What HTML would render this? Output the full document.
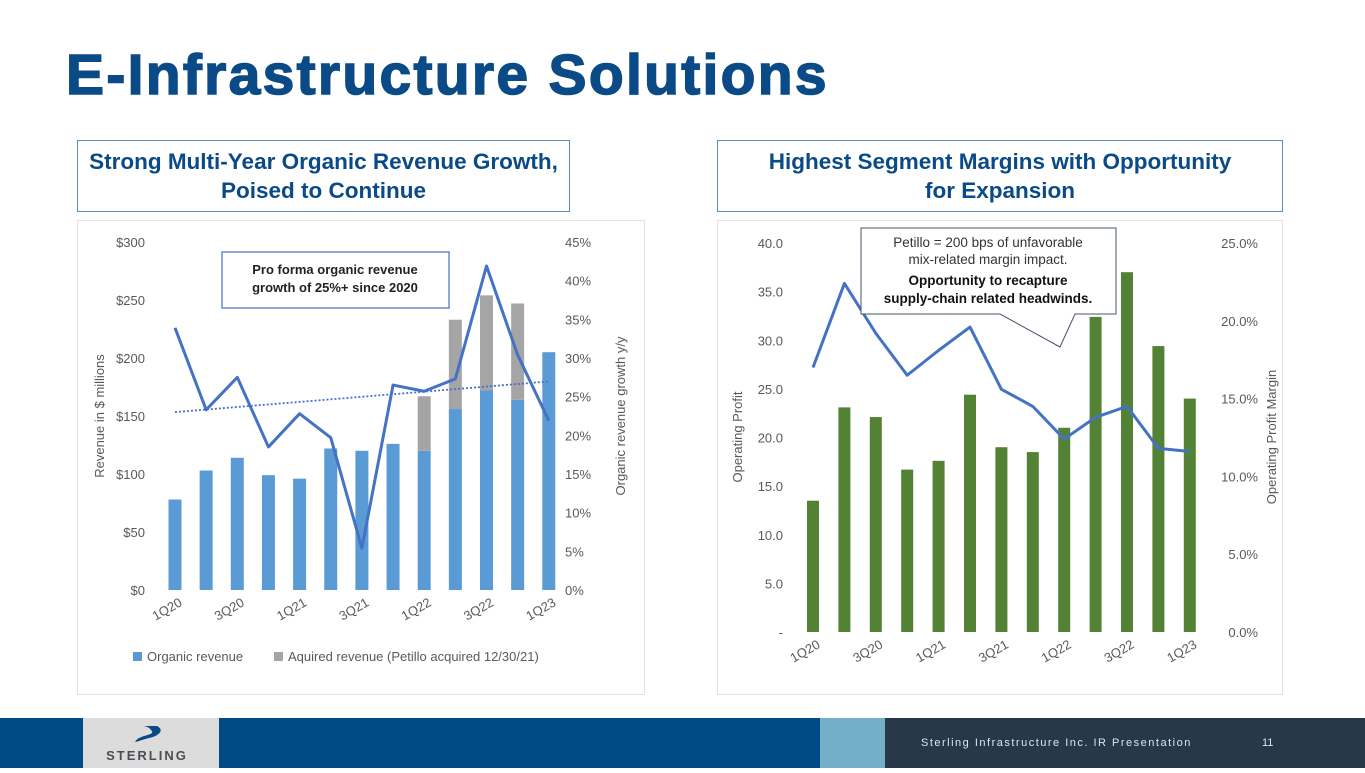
<!DOCTYPE html>
<html><head><meta charset="utf-8"><style>
body{margin:0;width:1365px;height:768px;overflow:hidden;background:#fff;font-family:"Liberation Sans",sans-serif;position:relative}
.abs{position:absolute}
.hdr{position:absolute;border:1.5px solid #5b8fc4;color:#0a4a86;font-weight:bold;font-size:22.5px;text-align:center;line-height:29px;box-sizing:border-box;padding-top:6px}
.frame{position:absolute;border:1px solid #e3e3e3;box-sizing:border-box}
</style></head><body>
<div class="abs" style="left:66px;top:42px;font-size:57px;font-weight:bold;color:#0a4a86;letter-spacing:2.3px;-webkit-text-stroke:1.5px #0a4a86">E-Infrastructure Solutions</div>
<div class="hdr" style="left:77px;top:140px;width:493px;height:72px">Strong Multi-Year Organic Revenue Growth,<br>Poised to Continue</div>
<div class="hdr" style="left:717px;top:140px;width:566px;height:72px">Highest Segment Margins with Opportunity<br>for Expansion</div>
<div class="frame" style="left:77px;top:220px;width:568px;height:475px"></div>
<div class="frame" style="left:717px;top:220px;width:566px;height:475px"></div>
<svg class="abs" style="left:0;top:0" width="1365" height="718" id="svg"></svg>
<div class="abs" style="left:0;top:718px;width:1365px;height:50px;background:#26384a">
 <div class="abs" style="left:0;top:0;width:83px;height:50px;background:#004a86"></div>
 <div class="abs" style="left:83px;top:0;width:136px;height:50px;background:#dcdcdc">
  <svg width="136" height="50"><path d="M52 24 C56 16,74 18,68 12 C66 9,62 8,60 8 L74 8 C82 12,76 18,66 20 C58 22,54 24,52 24Z" fill="#0a4a86"/><text x="64" y="42" text-anchor="middle" font-family="Liberation Sans" font-weight="bold" font-size="13" fill="#4a4f55" letter-spacing="2">STERLING</text></svg>
 </div>
 <div class="abs" style="left:219px;top:0;width:601px;height:50px;background:#004a86"></div>
 <div class="abs" style="left:820px;top:0;width:65px;height:50px;background:#74afc8"></div>
 <div class="abs" style="left:921px;top:19px;color:#dfe6ee;font-size:11px;letter-spacing:1.5px">Sterling Infrastructure Inc. IR Presentation</div>
 <div class="abs" style="left:1262px;top:19px;color:#dfe6ee;font-size:11px">11</div>
</div>
<script>
const quarters=["1Q20","2Q20","3Q20","4Q20","1Q21","2Q21","3Q21","4Q21","1Q22","2Q22","3Q22","4Q22","1Q23"];
const organic=[78,103,114,99,96,122,120,126,120,156,172,164,205];
const acquired=[0,0,0,0,0,0,0,0,47,77,82,83,0];
const growth=[33.9,23.3,27.5,18.5,22.8,19.7,5.4,26.5,25.7,27.3,41.9,30.4,21.9];
const leftTicks=[0,50,100,150,200,250,300];
const leftPctTicks=[0,5,10,15,20,25,30,35,40,45];
const opProfit=[13.5,23.1,22.1,16.7,17.6,24.4,19.0,18.5,21.0,32.4,37.0,29.4,24.0];
const opMargin=[17.0,22.4,19.2,16.5,18.1,19.6,15.6,14.5,12.4,13.8,14.5,11.8,11.6];
const rightTicks=[0,5,10,15,20,25,30,35,40];
const rightPctTicks=[0,5,10,15,20,25];
const xLabels=["1Q20","3Q20","1Q21","3Q21","1Q22","3Q22","1Q23"];

const svg=document.getElementById('svg');const NS="http://www.w3.org/2000/svg";
function el(t,a,txt){const e=document.createElementNS(NS,t);for(const k in a)e.setAttribute(k,a[k]);if(txt!==undefined)e.textContent=txt;svg.appendChild(e);return e;}
const L={x0:160,step:31.15,y0:590,y1:242};
const lx=i=>L.x0+15+i*L.step;
const ly=v=>L.y0-(v/300)*(L.y0-L.y1);
const lp=v=>L.y0-(v/45)*(L.y0-L.y1);
leftTicks.forEach(t=>{let e=el('text',{x:145,y:ly(t)+5,'text-anchor':'end','font-size':13,fill:'#595959'},'$'+t);});
leftPctTicks.forEach(t=>{let e=el('text',{x:565,y:lp(t)+5,'font-size':13,fill:'#595959'},t+'%');});
quarters.forEach((q,i)=>{
 let b=el('rect',{x:lx(i)-6.5,y:ly(organic[i]),width:13,height:ly(0)-ly(organic[i]),fill:'#5b9bd5'});
 
 if(acquired[i]>0){let a=el('rect',{x:lx(i)-6.5,y:ly(organic[i]+acquired[i]),width:13,height:ly(organic[i])-ly(organic[i]+acquired[i]),fill:'#a5a5a5'});
 }
});
let gl=el('polyline',{points:growth.map((g,i)=>lx(i)+','+lp(g)).join(' '),fill:'none',stroke:'#4472c4','stroke-width':3,'stroke-linejoin':'round'});

{const n=growth.length;let sx=0,sy=0,sxy=0,sxx=0;growth.forEach((g,i)=>{sx+=i;sy+=g;sxy+=i*g;sxx+=i*i});const m=(n*sxy-sx*sy)/(n*sxx-sx*sx),b=(sy-m*sx)/n;
let t=el('line',{x1:lx(0),y1:lp(b),x2:lx(n-1),y2:lp(b+m*(n-1)),stroke:'#4472c4','stroke-width':1.8,'stroke-dasharray':'2 2'});}
xLabels.forEach(q=>{const i=quarters.indexOf(q);let e=el('text',{x:lx(i)+8,y:605,'text-anchor':'end','font-size':13,fill:'#595959',transform:`rotate(-30 ${lx(i)+8} 605)`},q);});
let t1=el('text',{x:0,y:0,'font-size':13,fill:'#595959','text-anchor':'middle',transform:'translate(104 416) rotate(-90)'},'Revenue in $ millions');
let t2=el('text',{x:0,y:0,'font-size':13,fill:'#595959','text-anchor':'middle',transform:'translate(625 416) rotate(-90)'},'Organic revenue growth y/y');
let cb=el('rect',{x:222,y:252,width:227,height:56,fill:'#fff',stroke:'#4472c4','stroke-width':1.2});
el('text',{x:335,y:274,'text-anchor':'middle','font-size':13,'font-weight':'bold',fill:'#222'},'Pro forma organic revenue');
el('text',{x:335,y:292,'text-anchor':'middle','font-size':13,'font-weight':'bold',fill:'#222'},'growth of 25%+ since 2020');
let lg1=el('rect',{x:133,y:652,width:9,height:9,fill:'#5b9bd5'});
el('text',{x:147,y:661,'font-size':13,fill:'#595959'},'Organic revenue');
let lg2=el('rect',{x:274,y:652,width:9,height:9,fill:'#a5a5a5'});
el('text',{x:288,y:661,'font-size':13,fill:'#595959'},'Aquired revenue (Petillo acquired 12/30/21)');
const R={x0:798,step:31.4,y0:632,y1:243};
const rx=i=>R.x0+15+i*R.step;
const ry=v=>R.y0-(v/40)*(R.y0-R.y1);
const rp=v=>R.y0-(v/25)*(R.y0-R.y1);
rightTicks.forEach(t=>{let e=el('text',{x:783,y:ry(t)+5,'text-anchor':'end','font-size':13,fill:'#595959'},t===0?'-':t.toFixed(1));});
rightPctTicks.forEach(t=>{let e=el('text',{x:1258,y:rp(t)+5,'text-anchor':'end','font-size':13,fill:'#595959'},t.toFixed(1)+'%');});
quarters.forEach((q,i)=>{let b=el('rect',{x:rx(i)-6,y:ry(opProfit[i]),width:12,height:ry(0)-ry(opProfit[i]),fill:'#548235'});});
let ml=el('polyline',{points:opMargin.map((g,i)=>rx(i)+','+rp(g)).join(' '),fill:'none',stroke:'#4472c4','stroke-width':3,'stroke-linejoin':'round'});

xLabels.forEach(q=>{const i=quarters.indexOf(q);let e=el('text',{x:rx(i)+8,y:647,'text-anchor':'end','font-size':13,fill:'#595959',transform:`rotate(-30 ${rx(i)+8} 647)`},q);});
let t3=el('text',{x:0,y:0,'font-size':13,fill:'#595959','text-anchor':'middle',transform:'translate(742 437) rotate(-90)'},'Operating Profit');
let t4=el('text',{x:0,y:0,'font-size':13,fill:'#595959','text-anchor':'middle',transform:'translate(1276 437) rotate(-90)'},'Operating Profit Margin');
let cp=el('path',{d:'M861 228 H1116 V314 H1075 L1060 347 L1000 314 H861 Z',fill:'#fff',stroke:'#44546a','stroke-width':1});
el('text',{x:988,y:247,'text-anchor':'middle','font-size':13.5,fill:'#333'},'Petillo = 200 bps of unfavorable');
el('text',{x:988,y:264,'text-anchor':'middle','font-size':13.5,fill:'#333'},'mix-related margin impact.');
el('text',{x:988,y:285,'text-anchor':'middle','font-size':13.5,'font-weight':'bold',fill:'#111'},'Opportunity to recapture');
el('text',{x:988,y:303,'text-anchor':'middle','font-size':13.5,'font-weight':'bold',fill:'#111'},'supply-chain related headwinds.');
</script>
</body></html>
